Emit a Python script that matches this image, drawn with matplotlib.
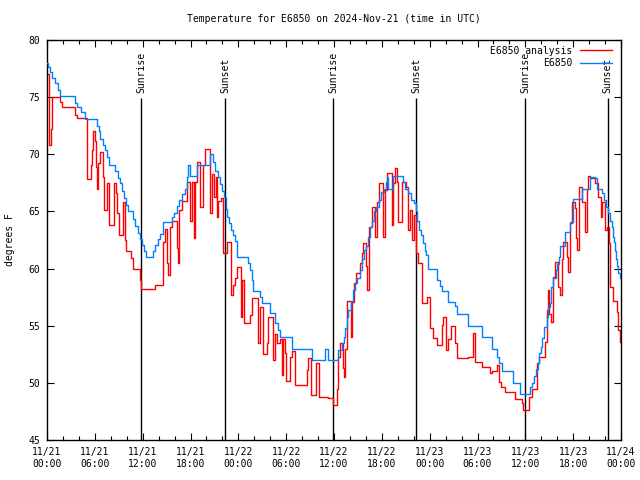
import matplotlib
matplotlib.use("Agg")
import matplotlib.pyplot as plt
import matplotlib.dates as mdates
import pandas as pd

# start of the day shown (UTC)
start = pd.Timestamp("2024-11-21 00:00")

# E6850 station readings: hours after start, deg F
obs_hours = [0.0, 0.13, 0.4, 0.6, 1.0, 1.4, 1.6, 3.5, 3.8, 4.3, 4.8, 6.3, 6.5, 6.6, 7.0, 7.3,
             7.5, 7.8, 8.5, 8.9, 9.2, 9.4, 9.7, 9.9, 10.2, 10.8, 11.0, 11.4, 11.7, 11.9, 12.2,
             12.4, 13.3, 13.5, 13.9, 14.2, 14.6, 15.7, 15.9, 16.3, 16.6, 16.9, 17.3, 17.6,
             17.7, 17.9, 18.8, 20.4, 20.8, 21.1, 21.5, 21.7, 22.0, 22.2, 22.5, 22.6, 22.8,
             23.1, 23.3, 23.6, 23.8, 25.2, 25.5, 25.7, 25.8, 26.7, 27.0, 28.0, 28.6, 29.0,
             29.2, 30.7, 33.2, 34.9, 35.2, 36.5, 37.0, 37.3, 37.4, 37.6, 37.8, 38.1, 38.4,
             38.6, 38.9, 39.3, 39.5, 39.8, 40.0, 40.3, 40.5, 40.8, 41.0, 41.3, 41.6, 41.9,
             42.3, 42.5, 42.6, 42.8, 43.4, 44.7, 44.9, 45.3, 45.7, 46.0, 46.3, 46.4, 46.7,
             46.9, 47.2, 47.4, 47.5, 47.8, 48.9, 49.3, 49.5, 50.3, 51.2, 51.4, 52.8, 54.6,
             55.8, 56.4, 56.7, 57.1, 58.5, 59.3, 60.6, 60.8, 61.1, 61.3, 61.6, 61.7, 62.0,
             62.1, 62.3, 62.7, 62.9, 63.1, 63.2, 63.5, 63.8, 64.0, 64.2, 64.4, 65.0, 65.6,
             66.0, 67.1, 68.1, 68.7, 69.0, 69.6, 69.9, 70.1, 70.4, 70.6, 70.9, 71.0, 71.1,
             71.3, 71.4, 71.5, 71.6, 71.9]
obs_temp = [78.0, 77.6, 77.2, 76.7, 76.2, 75.6, 75.1, 74.5, 74.1, 73.7, 73.1, 72.5, 72.0, 71.3,
            70.8, 70.4, 69.8, 69.1, 68.5, 67.9, 67.5, 66.8, 66.2, 65.6, 65.0, 64.3, 63.7,
            63.1, 62.6, 62.1, 61.5, 61.0, 61.5, 62.1, 62.6, 63.0, 64.1, 64.5, 64.9, 65.5,
            66.0, 66.5, 67.0, 68.0, 69.1, 68.1, 69.1, 70.0, 69.3, 68.5, 68.0, 67.4, 66.8,
            66.3, 65.2, 64.5, 64.0, 63.4, 62.9, 62.4, 61.0, 60.5, 59.9, 59.0, 58.0, 57.5,
            57.0, 56.1, 55.2, 54.6, 54.0, 53.0, 52.0, 53.0, 52.0, 52.9, 53.5, 54.0, 54.8,
            55.8, 56.4, 57.2, 58.1, 58.7, 59.2, 59.9, 60.8, 61.6, 62.0, 62.8, 63.6, 64.2,
            65.0, 65.4, 66.0, 66.7, 67.0, 67.6, 68.0, 67.0, 68.1, 67.6, 67.0, 66.6, 66.0,
            65.7, 65.0, 64.2, 63.4, 62.9, 62.2, 61.5, 61.2, 60.0, 59.0, 58.5, 58.0, 57.1,
            56.7, 56.0, 55.0, 54.0, 53.0, 52.3, 51.7, 51.0, 50.0, 49.0, 49.6, 50.0, 50.6,
            51.2, 51.7, 52.6, 53.1, 53.9, 54.9, 55.8, 56.6, 57.0, 58.4, 59.2, 59.9, 60.4,
            61.0, 62.0, 63.2, 64.1, 66.1, 67.0, 68.0, 67.9, 67.0, 66.6, 66.0, 65.4, 64.9,
            64.2, 63.6, 62.8, 62.3, 61.5, 60.8, 60.2, 59.6, 59.2]

# E6850 analysis: hours after start, deg F
ana_hours = [0.0, 0.2, 0.3, 0.45, 0.6, 1.6, 1.9, 3.5, 3.76, 5.0, 5.52, 5.65, 5.77, 6.02, 6.15,
             6.27, 6.4, 6.65, 7.02, 7.15, 7.53, 7.78, 8.4, 8.6, 8.78, 9.03, 9.53, 9.78, 9.91,
             10.54, 10.79, 11.67, 11.8, 13.55, 14.55, 14.8, 15.05, 15.18, 15.43, 15.68, 16.31,
             16.43, 16.56, 16.93, 17.56, 17.94, 18.19, 18.44, 18.56, 18.82, 19.19, 19.57,
             19.82, 20.45, 20.7, 20.95, 21.2, 21.32, 21.45, 21.83, 22.08, 22.58, 23.08, 23.33,
             23.58, 23.83, 24.33, 24.46, 24.71, 25.46, 25.72, 26.47, 26.72, 27.09, 27.6,
             27.72, 28.35, 28.6, 28.85, 29.23, 29.48, 29.6, 29.85, 29.98, 30.48, 30.73,
             31.11, 32.61, 32.74, 33.12, 33.74, 34.12, 35.3, 35.88, 36.38, 36.5, 36.75,
             37.13, 37.26, 37.38, 37.63, 38.13, 38.26, 38.51, 38.76, 39.26, 39.51, 39.64,
             40.02, 40.14, 40.39, 40.77, 41.14, 41.39, 41.65, 42.15, 42.4, 42.65, 43.28,
             43.4, 43.65, 43.9, 44.03, 44.53, 45.03, 45.28, 45.53, 45.78, 46.04, 46.29,
             46.54, 47.1, 47.67, 48.0, 48.42, 48.92, 49.55, 49.67, 50.05, 50.3, 50.68,
             51.18, 51.43, 52.81, 53.44, 53.69, 54.57, 55.57, 55.82, 56.45, 56.7, 56.95,
             57.45, 58.7, 59.58, 59.71, 60.46, 60.84, 61.46, 61.72, 62.47, 62.72, 62.84,
             62.97, 63.22, 63.47, 63.72, 64.1, 64.35, 64.6, 64.73, 65.23, 65.35, 65.6,
             65.86, 66.23, 66.35, 66.48, 66.73, 67.11, 67.49, 67.74, 67.86, 68.11, 68.74,
             69.12, 69.49, 69.62, 69.99, 70.25, 70.5, 70.62, 71.0, 71.5, 71.62, 71.88]
ana_temp = [77.0, 72.5, 70.8, 72.2, 75.0, 74.6, 74.1, 73.4, 73.2, 67.8, 69.1, 70.4, 72.0, 71.2,
            68.9, 67.0, 69.2, 70.2, 68.0, 65.1, 67.5, 63.8, 67.5, 66.6, 64.9, 62.9, 65.8,
            62.5, 61.5, 60.9, 60.0, 59.0, 58.2, 58.6, 62.3, 63.5, 60.5, 59.4, 63.6, 64.2,
            61.8, 60.5, 65.1, 65.9, 67.6, 64.2, 67.6, 62.7, 67.6, 69.3, 65.4, 69.1, 70.5,
            64.9, 68.3, 66.3, 68.0, 64.5, 65.9, 66.2, 61.4, 62.3, 57.7, 58.6, 59.2, 60.1,
            55.8, 59.0, 55.2, 55.9, 57.4, 53.5, 56.6, 52.5, 53.5, 55.8, 52.0, 54.3, 53.5,
            53.8, 50.7, 53.8, 52.6, 50.2, 52.3, 52.8, 49.8, 51.1, 52.2, 48.9, 51.7, 48.8,
            48.7, 48.1, 49.5, 52.3, 53.5, 51.3, 50.5, 53.0, 57.2, 54.0, 57.1, 58.7, 59.6,
            60.5, 61.4, 62.2, 60.2, 58.1, 63.6, 65.4, 62.8, 65.8, 67.5, 62.8, 66.9, 68.4,
            63.8, 67.5, 68.8, 67.6, 64.1, 67.6, 67.1, 63.4, 65.1, 62.5, 64.7, 61.4, 60.5,
            57.0, 57.5, 54.8, 53.9, 53.3, 55.1, 55.8, 52.9, 53.8, 55.0, 53.5, 52.2, 52.3,
            54.4, 51.8, 51.4, 50.9, 51.0, 51.6, 50.1, 49.6, 49.2, 48.6, 48.2, 47.6, 48.8,
            49.5, 51.7, 52.3, 53.6, 56.4, 58.1, 56.0, 55.3, 59.3, 60.6, 58.4, 57.7, 60.8,
            62.3, 61.0, 59.7, 64.0, 65.8, 65.3, 62.7, 61.6, 67.1, 65.8, 63.2, 67.0, 68.1,
            67.9, 67.5, 66.3, 64.5, 65.8, 63.4, 63.6, 62.2, 58.4, 57.2, 56.2, 54.6, 53.6]

# sunrise / sunset marks (UTC)
sun_times = ["2024-11-21 11:47", "2024-11-21 22:20", "2024-11-22 11:53",
             "2024-11-22 22:17", "2024-11-23 11:58", "2024-11-23 22:21"]
sun_labels = ["Sunrise", "Sunset", "Sunrise", "Sunset", "Sunrise", "Sunset"]

obs_t = start + pd.to_timedelta(obs_hours, unit="h")
ana_t = start + pd.to_timedelta(ana_hours, unit="h")

plt.rcParams["font.family"] = ["DejaVu Sans Mono"]
plt.rcParams["font.size"] = 7

fig = plt.figure(figsize=(6.4, 4.8), dpi=100)
ax = fig.add_axes([47 / 640, 40 / 480, 574 / 640, 400 / 480])

for t, lab in zip(sun_times, sun_labels):
    ts = pd.Timestamp(t)
    ax.vlines(ts, 45, 74.9, color="black", lw=1.0, zorder=1)
    ax.text(ts, 75.4, lab, rotation=90, ha="center", va="bottom", fontsize=7)

ax.plot(ana_t, ana_temp, drawstyle="steps-post", color="#ff0000", lw=1.0, label="E6850 analysis", zorder=2)
ax.plot(obs_t, obs_temp, drawstyle="steps-post", color="#0080ff", lw=1.0, label="E6850", zorder=3)

ax.set_xlim(start, start + pd.Timedelta(hours=72))
ax.set_ylim(45, 80)
ax.set_yticks(range(45, 81, 5))

ax.xaxis.set_major_locator(mdates.HourLocator(byhour=[0, 6, 12, 18]))
ax.xaxis.set_minor_locator(mdates.HourLocator(byhour=range(0, 24, 2)))
ax.xaxis.set_major_formatter(mdates.DateFormatter("%m/%d\n%H:%M"))

ax.tick_params(which="both", direction="in", top=True, right=True, width=0.8)
ax.tick_params(which="major", length=5, pad=5)
ax.tick_params(which="minor", length=3)
for s in ax.spines.values():
    s.set_linewidth(1.0)

ax.legend(loc="upper right", bbox_to_anchor=(0.997, 1.005), frameon=False, markerfirst=False,
          handlelength=3.2, handletextpad=0.8, labelspacing=0.25, borderpad=0.3, fontsize=7)

fig.text(334 / 640, 1 - 19 / 480, "Temperature for E6850 on 2024-Nov-21 (time in UTC)",
         ha="center", va="center", fontsize=7)
fig.text(10 / 640, 0.5, "degrees F", rotation=90, ha="center", va="center", fontsize=7)

fig.savefig("out.png", dpi=100)
